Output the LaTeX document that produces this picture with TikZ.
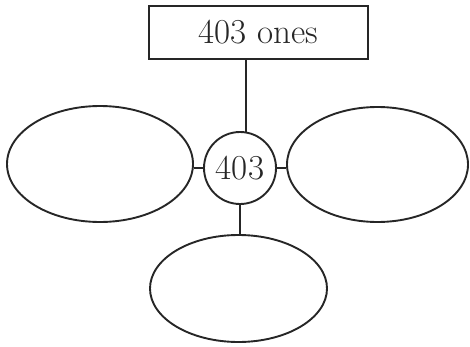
\documentclass[tikz,border=0pt]{standalone}
\usetikzlibrary{positioning,shapes.geometric}

\tikzset{
    blobline/.style={line width=1.9pt, black!85},
    blob/.style={draw, blobline, ellipse, inner sep=0pt},
    topbox/.style={draw, line width=2.1pt, black!85, minimum width=219pt,
        minimum height=53pt, inner sep=0pt, font=\fontsize{35}{40}\selectfont},
    centercirc/.style={draw, blobline, circle, minimum size=72pt, inner sep=0pt,
        font=\fontsize{35}{40}\selectfont}
}

\begin{document}
\begin{tikzpicture}[x=1pt, y=1pt]

% Page frame
\useasboundingbox (0,0) rectangle (470,346);

% Title box and middle circle
\node[topbox] (ones) at (258.5, 313.5) {403 ones};
\node[centercirc] (num) at (240, 178) {403};

% Empty ellipses
\node[blob, minimum width=186pt, minimum height=116pt] (leftell) at (100, 182) {};
\node[blob, minimum width=181pt, minimum height=115pt] (rightell) at (377.5, 181.5) {};
\node[blob, minimum width=177pt, minimum height=107pt] (botell) at (238.5, 57.5) {};

% Connectors
\draw[blobline] (num.80) -- (num.80 |- ones.south);
\draw[blobline] (num.west) -- (num.west -| leftell.east);
\draw[blobline] (num.east) -- (num.east -| rightell.west);
\draw[blobline] (num.south) -- (num.south |- botell.north);

\end{tikzpicture}
\end{document}
